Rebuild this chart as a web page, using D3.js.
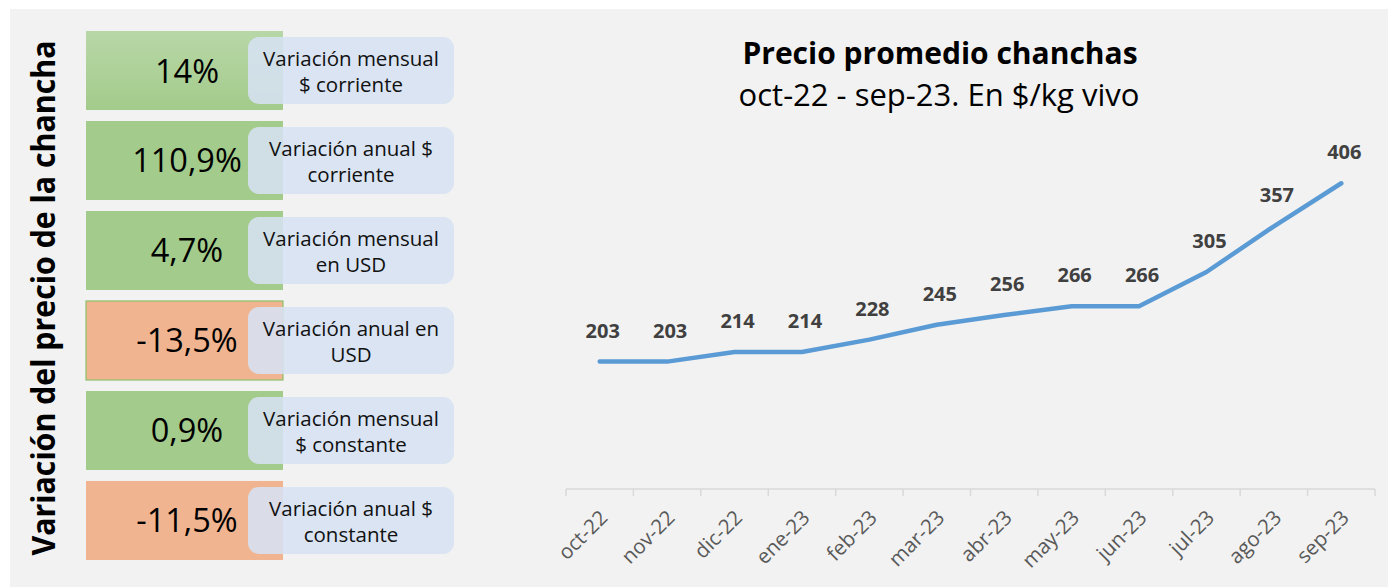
<!DOCTYPE html>
<html>
<head>
<meta charset="utf-8">
<script src="https://cdn.jsdelivr.net/npm/d3@7"></script>
<style>
  body { margin: 0; background: #ffffff; }
  svg { display: block; }
  text { font-family: "Open Sans", "Noto Sans", sans-serif; }
</style>
</head>
<body>
<div id="chart"></div>
<script>
var width = 1388,
    height = 587;

// monthly price, $/kg live weight
var months = ["oct-22", "nov-22", "dic-22", "ene-23", "feb-23", "mar-23",
              "abr-23", "may-23", "jun-23", "jul-23", "ago-23", "sep-23"];
var prices = [203, 203, 214, 214, 228, 245, 256, 266, 266, 305, 357, 406];

// left side variation boxes
var varValues = [14, 110.9, 4.7, -13.5, 0.9, -11.5];
var varText = ["14%", "110,9%", "4,7%", "-13,5%", "0,9%", "-11,5%"];
var varLabels = [
  ["Variación mensual", "$ corriente"],
  ["Variación anual $", "corriente"],
  ["Variación mensual", "en USD"],
  ["Variación anual en", "USD"],
  ["Variación mensual", "$ constante"],
  ["Variación anual $", "constante"]
];

var svg = d3.select("#chart").append("svg")
  .attr("width", width)
  .attr("height", height);

var defs = svg.append("defs");
var grad = defs.append("linearGradient")
  .attr("id", "greenGrad")
  .attr("x1", 0).attr("y1", 0).attr("x2", 0).attr("y2", 1);
grad.append("stop").attr("offset", "0%").attr("stop-color", "#b8d7a7");
grad.append("stop").attr("offset", "100%").attr("stop-color", "#a3cb8b");

// grey panel
svg.append("rect")
  .attr("x", 10).attr("y", 9)
  .attr("width", width - 10).attr("height", height - 9)
  .style("fill", "#f2f2f2");

// ---- left panel ----
svg.append("text")
  .attr("transform", "translate(55,298) rotate(-90)")
  .attr("text-anchor", "middle")
  .attr("textLength", 515)
  .attr("lengthAdjust", "spacingAndGlyphs")
  .style("font-size", "32px")
  .style("font-weight", "bold")
  .style("fill", "#000")
  .text("Variación del precio de la chancha");

var rowScale = d3.scaleBand()
  .domain(d3.range(varValues.length))
  .range([31, 560])
  .paddingInner(0.122)
  .paddingOuter(0);

var rows = svg.selectAll("g.row")
  .data(varValues)
  .enter()
  .append("g")
  .attr("class", "row")
  .attr("transform", function(d, i) { return "translate(0," + rowScale(i) + ")"; });

rows.append("rect")
  .attr("x", 86)
  .attr("width", 197)
  .attr("height", rowScale.bandwidth())
  .style("fill", function(d, i) {
    if (i === 0) return "url(#greenGrad)";
    return d >= 0 ? "#a3cb8b" : "#f0b590";
  })
  .style("stroke", function(d, i) { return i === 3 ? "#8cc06a" : "none"; })
  .style("stroke-width", 1.2);

rows.append("text")
  .attr("x", 187)
  .attr("y", rowScale.bandwidth() / 2 + 12)
  .attr("text-anchor", "middle")
  .style("font-size", "32.5px")
  .style("fill", "#000")
  .text(function(d, i) { return varText[i]; });

rows.append("rect")
  .attr("x", 248)
  .attr("y", 6)
  .attr("width", 206)
  .attr("height", 67)
  .attr("rx", 11)
  .style("fill", "#d6e1f2")
  .style("opacity", 0.88);

rows.append("text")
  .attr("text-anchor", "middle")
  .style("font-size", "20.5px")
  .style("fill", "#111")
  .selectAll("tspan")
  .data(function(d, i) { return varLabels[i]; })
  .enter()
  .append("tspan")
  .attr("x", 351)
  .attr("y", function(d, j) { return 35 + j * 26; })
  .text(function(d) { return d; });

// ---- line chart ----
svg.append("text")
  .attr("x", 940).attr("y", 64)
  .attr("text-anchor", "middle")
  .style("font-size", "30px")
  .style("font-weight", "bold")
  .style("fill", "#000")
  .text("Precio promedio chanchas");

svg.append("text")
  .attr("x", 939).attr("y", 106)
  .attr("text-anchor", "middle")
  .style("font-size", "31px")
  .style("fill", "#000")
  .text("oct-22 - sep-23. En $/kg vivo");

var x = d3.scaleBand()
  .domain(months)
  .range([566, 1375]);

var y = d3.scaleLinear()
  .domain([58, 478])
  .range([489, 120]);

var axisY = 489;
var axis = svg.append("g").attr("class", "x-axis");

axis.append("line")
  .attr("x1", x.range()[0]).attr("x2", x.range()[1])
  .attr("y1", axisY).attr("y2", axisY)
  .style("stroke", "#d9d9d9")
  .style("stroke-width", 1.5);

var tickPos = months.map(function(m) { return x(m); }).concat([x.range()[1]]);
axis.selectAll("line.tick")
  .data(tickPos)
  .enter()
  .append("line")
  .attr("class", "tick")
  .attr("x1", function(d) { return d; })
  .attr("x2", function(d) { return d; })
  .attr("y1", axisY)
  .attr("y2", axisY + 7)
  .style("stroke", "#d9d9d9")
  .style("stroke-width", 1.5);

axis.selectAll("text")
  .data(months)
  .enter()
  .append("text")
  .attr("text-anchor", "end")
  .attr("transform", function(d) {
    return "translate(" + (x(d) + x.bandwidth() / 2 + 9) + "," + (axisY + 30) + ") rotate(-45)";
  })
  .style("font-size", "20.5px")
  .style("fill", "#595959")
  .text(function(d) { return d; });

var data = months.map(function(m, i) { return { month: m, value: prices[i] }; });

var line = d3.line()
  .x(function(d) { return x(d.month) + x.bandwidth() / 2; })
  .y(function(d) { return y(d.value); });

svg.append("path")
  .datum(data)
  .attr("d", line)
  .style("fill", "none")
  .style("stroke", "#5b9bd5")
  .style("stroke-width", 4.5)
  .style("stroke-linecap", "round")
  .style("stroke-linejoin", "round");

svg.selectAll("text.val")
  .data(data)
  .enter()
  .append("text")
  .attr("class", "val")
  .attr("x", function(d) { return x(d.month) + x.bandwidth() / 2 + 3; })
  .attr("y", function(d) { return y(d.value) - 24; })
  .attr("text-anchor", "middle")
  .style("font-size", "20px")
  .style("font-weight", "bold")
  .style("fill", "#404040")
  .text(function(d) { return d.value; });
</script>
</body>
</html>
